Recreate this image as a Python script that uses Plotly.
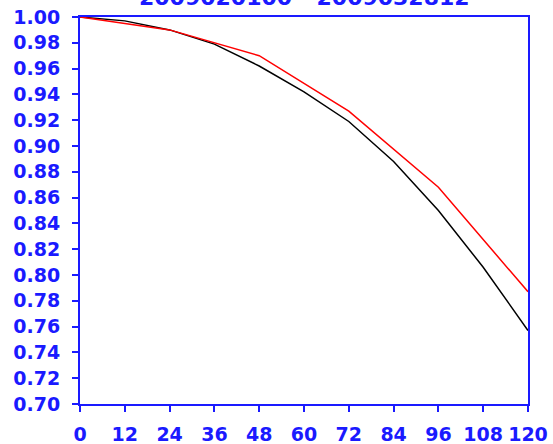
import plotly.graph_objects as go

hours = [0, 12, 24, 36, 48, 60, 72, 84, 96, 108, 120]
black_vals = [1.000, 0.997, 0.990, 0.979, 0.962, 0.942, 0.919, 0.888, 0.850, 0.806, 0.757]
red_hours = [0, 24, 48, 72, 96, 120]
red_vals = [1.000, 0.990, 0.970, 0.927, 0.868, 0.787]
y_ticks = [round(0.70 + 0.02 * i, 2) for i in range(16)]
title_text = "2009020100 - 2009032812"

BLUE = "#1a1aff"
FONT = "DejaVu Sans, sans-serif"

fig = go.Figure()
fig.add_trace(go.Scatter(x=hours, y=black_vals, mode="lines",
                         line=dict(color="black", width=1.5), showlegend=False))
fig.add_trace(go.Scatter(x=red_hours, y=red_vals, mode="lines",
                         line=dict(color="red", width=1.5), showlegend=False))

axis_common = dict(showline=True, linecolor=BLUE, linewidth=2, mirror=True,
                   ticks="outside", ticklen=6, tickwidth=2, tickcolor=BLUE,
                   showgrid=False, zeroline=False, automargin=False,
                   tickfont=dict(family=FONT, size=19, color=BLUE, weight="bold"))

fig.update_layout(
    width=553, height=444,
    margin=dict(l=80, r=25, t=17, b=40),
    paper_bgcolor="white", plot_bgcolor="white",
    font=dict(family=FONT, color=BLUE, size=19),
    xaxis=dict(range=[0, 120], tickvals=hours, ticktext=[str(h) for h in hours],
               ticklabelstandoff=6, **axis_common),
    yaxis=dict(range=[0.70, 1.00], tickvals=y_ticks,
               ticktext=[f"{v:.2f}" for v in y_ticks],
               ticklabelstandoff=8, **axis_common),
    annotations=[dict(text=title_text, x=0.5, xref="paper", xanchor="center",
                      y=1 + 4.5 / 387, yref="paper", yanchor="bottom",
                      showarrow=False,
                      font=dict(family=FONT, size=22, color=BLUE, weight="bold"))],
)

fig.write_html("out.html", config={"displayModeBar": False},
               post_script="document.body.style.margin='0';document.body.style.overflow='hidden';")
